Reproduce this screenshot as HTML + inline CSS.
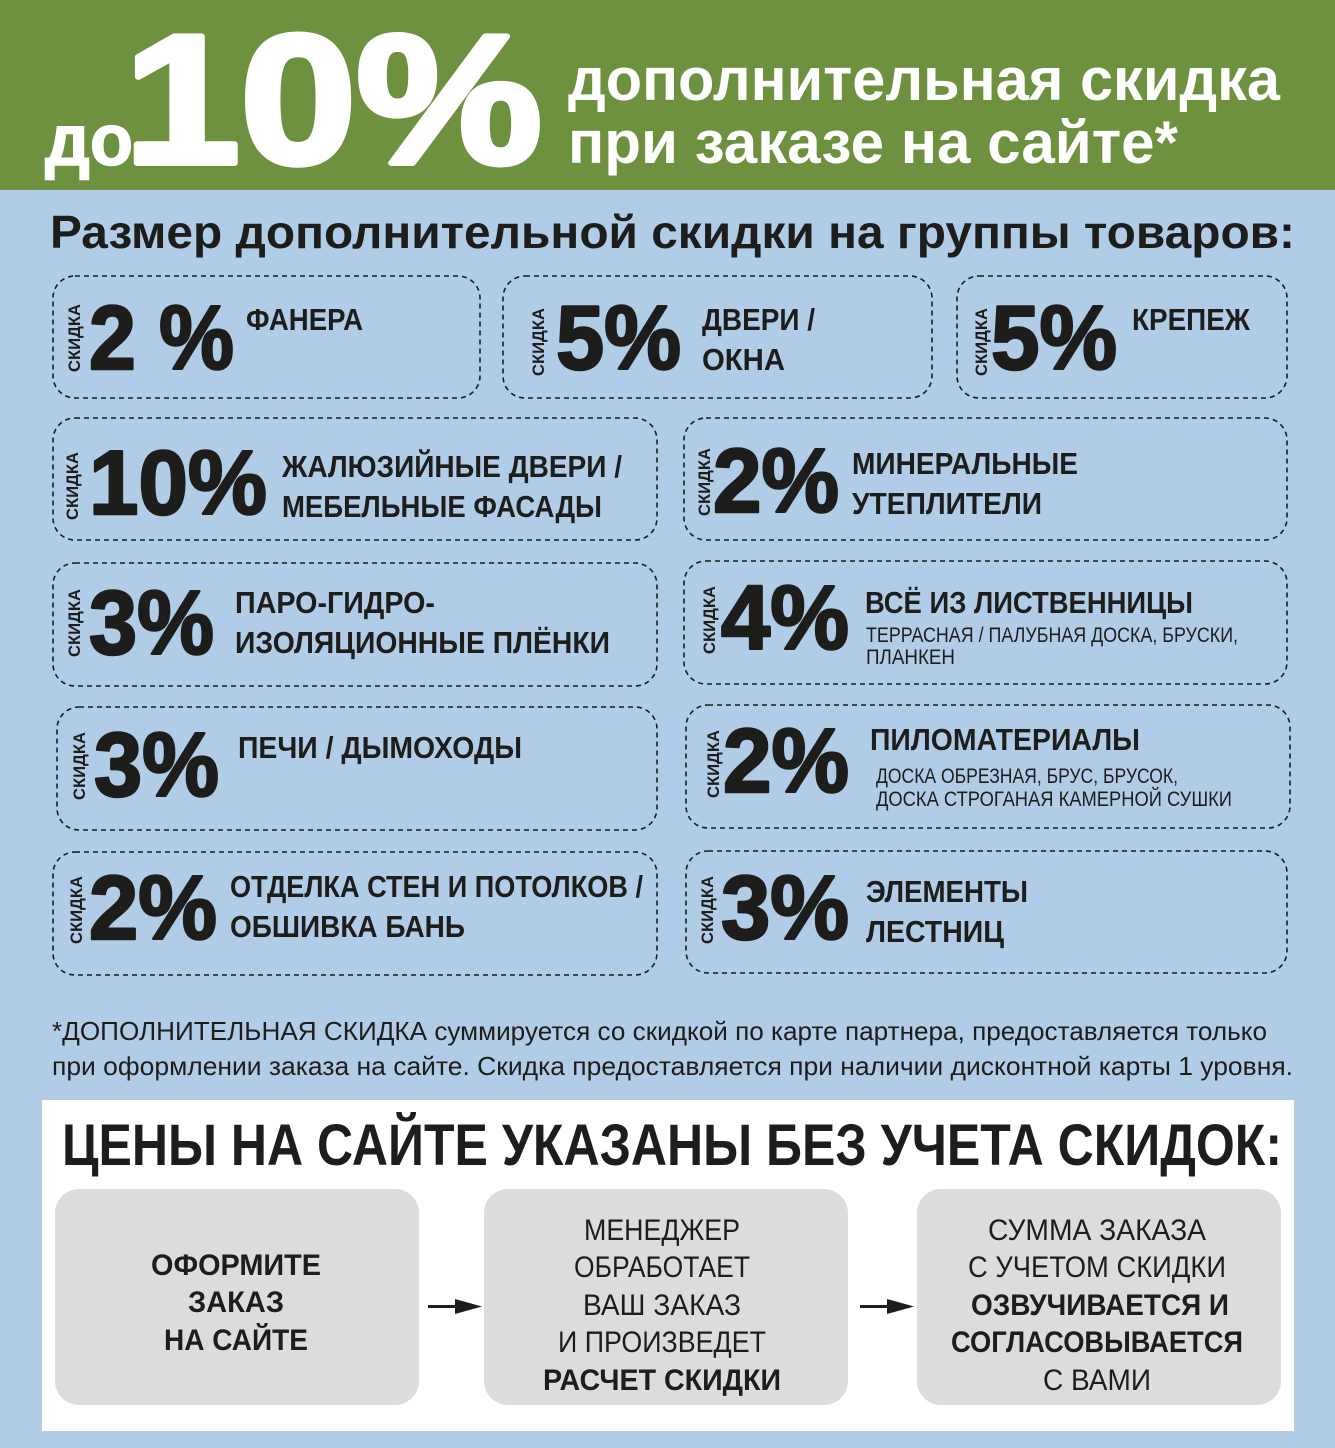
<!DOCTYPE html>
<html><head><meta charset="utf-8"><style>
html,body{margin:0;padding:0;background:#b1cce6}
svg{display:block}
text{font-family:"Liberation Sans","DejaVu Sans",sans-serif;fill:#1d1d1b}
.b{font-weight:bold}
.w{fill:#fff}
</style></head><body>
<svg width="1335" height="1448" viewBox="0 0 1335 1448" xmlns="http://www.w3.org/2000/svg">
<rect x="0" y="0" width="1335" height="1448" fill="#b1cce6"/>
<rect x="0" y="0" width="1335" height="190" fill="#6e9140"/>
<text class="b w" x="45" y="165" font-size="72" textLength="88" lengthAdjust="spacingAndGlyphs" stroke="#fff" stroke-width="1.5">до</text>
<text x="124" y="163" style="font-family:'Liberation Sans',sans-serif;font-weight:bold;font-size:184px;fill:#fff" stroke="#fff" stroke-width="6" stroke-linejoin="round" textLength="418" lengthAdjust="spacingAndGlyphs">10%</text>
<text class="b w" x="568" y="100" font-size="60" textLength="712" lengthAdjust="spacingAndGlyphs">дополнительная скидка</text>
<text class="b w" x="568" y="163" font-size="60" textLength="610" lengthAdjust="spacingAndGlyphs">при заказе на сайте*</text>
<text class="b" x="50" y="248" font-size="46" textLength="1245" lengthAdjust="spacingAndGlyphs">Размер дополнительной скидки на группы товаров:</text>

<g fill="none" stroke="#1d1d1b" stroke-width="1.6" stroke-dasharray="5,4">
<rect x="53" y="276" width="427" height="122" rx="22"/>
<rect x="503" y="276" width="429" height="122" rx="22"/>
<rect x="957" y="276" width="330" height="122" rx="22"/>
<rect x="53" y="418" width="604" height="122" rx="22"/>
<rect x="684" y="418" width="603" height="122" rx="22"/>
<rect x="53" y="563" width="604" height="123" rx="22"/>
<rect x="684" y="561" width="603" height="123" rx="22"/>
<rect x="57" y="707" width="600" height="123" rx="22"/>
<rect x="686" y="705" width="604" height="123" rx="22"/>
<rect x="53" y="852" width="604" height="123" rx="22"/>
<rect x="686" y="851" width="601" height="122" rx="22"/>
</g>

<g class="b" font-size="17">
<text class="b" transform="translate(80,372) rotate(-90)" textLength="68" lengthAdjust="spacingAndGlyphs">СКИДКА</text>
<text class="b" transform="translate(544,376) rotate(-90)" textLength="68" lengthAdjust="spacingAndGlyphs">СКИДКА</text>
<text class="b" transform="translate(987,376) rotate(-90)" textLength="68" lengthAdjust="spacingAndGlyphs">СКИДКА</text>
<text class="b" transform="translate(78,520) rotate(-90)" textLength="68" lengthAdjust="spacingAndGlyphs">СКИДКА</text>
<text class="b" transform="translate(710,516) rotate(-90)" textLength="68" lengthAdjust="spacingAndGlyphs">СКИДКА</text>
<text class="b" transform="translate(80,657) rotate(-90)" textLength="68" lengthAdjust="spacingAndGlyphs">СКИДКА</text>
<text class="b" transform="translate(715,654) rotate(-90)" textLength="68" lengthAdjust="spacingAndGlyphs">СКИДКА</text>
<text class="b" transform="translate(85,800) rotate(-90)" textLength="68" lengthAdjust="spacingAndGlyphs">СКИДКА</text>
<text class="b" transform="translate(719,798) rotate(-90)" textLength="68" lengthAdjust="spacingAndGlyphs">СКИДКА</text>
<text class="b" transform="translate(82,944) rotate(-90)" textLength="68" lengthAdjust="spacingAndGlyphs">СКИДКА</text>
<text class="b" transform="translate(713,944) rotate(-90)" textLength="68" lengthAdjust="spacingAndGlyphs">СКИДКА</text>
</g>

<g class="b" font-size="91" stroke="#1d1d1b" stroke-width="2.5" stroke-linejoin="round">
<text class="b" x="89" y="369" textLength="145" lengthAdjust="spacingAndGlyphs">2 %</text>
<text class="b" x="556" y="369" textLength="125" lengthAdjust="spacingAndGlyphs">5%</text>
<text class="b" x="991" y="369" textLength="126" lengthAdjust="spacingAndGlyphs">5%</text>
<text class="b" x="89" y="514" textLength="178" lengthAdjust="spacingAndGlyphs">10%</text>
<text class="b" x="713" y="512" textLength="126" lengthAdjust="spacingAndGlyphs">2%</text>
<text class="b" x="89" y="654" textLength="125" lengthAdjust="spacingAndGlyphs">3%</text>
<text class="b" x="721" y="649" textLength="128" lengthAdjust="spacingAndGlyphs">4%</text>
<text class="b" x="94" y="796" textLength="125" lengthAdjust="spacingAndGlyphs">3%</text>
<text class="b" x="723" y="792" textLength="126" lengthAdjust="spacingAndGlyphs">2%</text>
<text class="b" x="89" y="939" textLength="128" lengthAdjust="spacingAndGlyphs">2%</text>
<text class="b" x="721" y="939" textLength="128" lengthAdjust="spacingAndGlyphs">3%</text>
</g>

<g font-size="31">
<text class="b" x="246" y="330" textLength="117" lengthAdjust="spacingAndGlyphs">ФАНЕРА</text>
<text class="b" x="702" y="330" textLength="113" lengthAdjust="spacingAndGlyphs">ДВЕРИ /</text>
<text class="b" x="702" y="370" textLength="83" lengthAdjust="spacingAndGlyphs">ОКНА</text>
<text class="b" x="1132" y="330" textLength="118" lengthAdjust="spacingAndGlyphs">КРЕПЕЖ</text>
<text class="b" x="282" y="477" textLength="340" lengthAdjust="spacingAndGlyphs">ЖАЛЮЗИЙНЫЕ ДВЕРИ /</text>
<text class="b" x="282" y="517" textLength="320" lengthAdjust="spacingAndGlyphs">МЕБЕЛЬНЫЕ ФАСАДЫ</text>
<text class="b" x="852" y="474" textLength="226" lengthAdjust="spacingAndGlyphs">МИНЕРАЛЬНЫЕ</text>
<text class="b" x="852" y="514" textLength="190" lengthAdjust="spacingAndGlyphs">УТЕПЛИТЕЛИ</text>
<text class="b" x="235" y="613" textLength="200" lengthAdjust="spacingAndGlyphs">ПАРО-ГИДРО-</text>
<text class="b" x="235" y="653" textLength="375" lengthAdjust="spacingAndGlyphs">ИЗОЛЯЦИОННЫЕ ПЛЁНКИ</text>
<text class="b" x="865" y="613" textLength="328" lengthAdjust="spacingAndGlyphs">ВСЁ ИЗ ЛИСТВЕННИЦЫ</text>
<text class="b" x="238" y="758" textLength="284" lengthAdjust="spacingAndGlyphs">ПЕЧИ / ДЫМОХОДЫ</text>
<text class="b" x="870" y="750" textLength="270" lengthAdjust="spacingAndGlyphs">ПИЛОМАТЕРИАЛЫ</text>
<text class="b" x="230" y="897" textLength="413" lengthAdjust="spacingAndGlyphs">ОТДЕЛКА СТЕН И ПОТОЛКОВ /</text>
<text class="b" x="230" y="937" textLength="235" lengthAdjust="spacingAndGlyphs">ОБШИВКА БАНЬ</text>
<text class="b" x="866" y="902" textLength="162" lengthAdjust="spacingAndGlyphs">ЭЛЕМЕНТЫ</text>
<text class="b" x="866" y="942" textLength="138" lengthAdjust="spacingAndGlyphs">ЛЕСТНИЦ</text>
</g>
<g font-size="21">
<text x="866" y="642" textLength="372" lengthAdjust="spacingAndGlyphs">ТЕРРАСНАЯ / ПАЛУБНАЯ ДОСКА, БРУСКИ,</text>
<text x="866" y="664" textLength="89" lengthAdjust="spacingAndGlyphs">ПЛАНКЕН</text>
<text x="876" y="783" textLength="302" lengthAdjust="spacingAndGlyphs">ДОСКА ОБРЕЗНАЯ, БРУС, БРУСОК,</text>
<text x="876" y="806" textLength="356" lengthAdjust="spacingAndGlyphs">ДОСКА СТРОГАНАЯ КАМЕРНОЙ СУШКИ</text>
</g>

<g font-size="26">
<text x="52" y="1040" textLength="1215" lengthAdjust="spacingAndGlyphs">*ДОПОЛНИТЕЛЬНАЯ СКИДКА суммируется со скидкой по карте партнера, предоставляется только</text>
<text x="52" y="1075" textLength="1241" lengthAdjust="spacingAndGlyphs">при оформлении заказа на сайте. Скидка предоставляется при наличии дисконтной карты 1 уровня.</text>
</g>

<rect x="42" y="1100" width="1252" height="331" fill="#ffffff"/>
<text class="b" x="62" y="1165" font-size="58" textLength="1220" lengthAdjust="spacingAndGlyphs">ЦЕНЫ НА САЙТЕ УКАЗАНЫ БЕЗ УЧЕТА СКИДОК:</text>
<rect x="55" y="1189" width="364" height="216" rx="24" fill="#dcdcdc"/>
<rect x="484" y="1189" width="364" height="216" rx="24" fill="#dcdcdc"/>
<rect x="917" y="1189" width="364" height="216" rx="24" fill="#dcdcdc"/>

<g fill="#1d1d1b">
<rect x="428" y="1305" width="30" height="3"/>
<polygon points="455,1299 482,1306.5 455,1314"/>
<rect x="860" y="1305" width="30" height="3"/>
<polygon points="887,1299 914,1306.5 887,1314"/>
</g>

<g font-size="30" text-anchor="middle">
<text class="b" x="236" y="1275" textLength="170" lengthAdjust="spacingAndGlyphs">ОФОРМИТЕ</text>
<text class="b" x="236" y="1312" textLength="96" lengthAdjust="spacingAndGlyphs">ЗАКАЗ</text>
<text class="b" x="236" y="1350" textLength="144" lengthAdjust="spacingAndGlyphs">НА САЙТЕ</text>

<text x="662" y="1240" textLength="156" lengthAdjust="spacingAndGlyphs">МЕНЕДЖЕР</text>
<text x="662" y="1277" textLength="176" lengthAdjust="spacingAndGlyphs">ОБРАБОТАЕТ</text>
<text x="662" y="1315" textLength="158" lengthAdjust="spacingAndGlyphs">ВАШ ЗАКАЗ</text>
<text x="662" y="1352" textLength="208" lengthAdjust="spacingAndGlyphs">И ПРОИЗВЕДЕТ</text>
<text class="b" x="662" y="1390" textLength="238" lengthAdjust="spacingAndGlyphs">РАСЧЕТ СКИДКИ</text>

<text x="1097" y="1240" textLength="218" lengthAdjust="spacingAndGlyphs">СУММА ЗАКАЗА</text>
<text x="1097" y="1277" textLength="258" lengthAdjust="spacingAndGlyphs">С УЧЕТОМ СКИДКИ</text>
<text class="b" x="1100" y="1315" textLength="258" lengthAdjust="spacingAndGlyphs">ОЗВУЧИВАЕТСЯ И</text>
<text class="b" x="1097" y="1352" textLength="292" lengthAdjust="spacingAndGlyphs">СОГЛАСОВЫВАЕТСЯ</text>
<text x="1097" y="1390" textLength="108" lengthAdjust="spacingAndGlyphs">С ВАМИ</text>
</g>
</svg>
</body></html>
